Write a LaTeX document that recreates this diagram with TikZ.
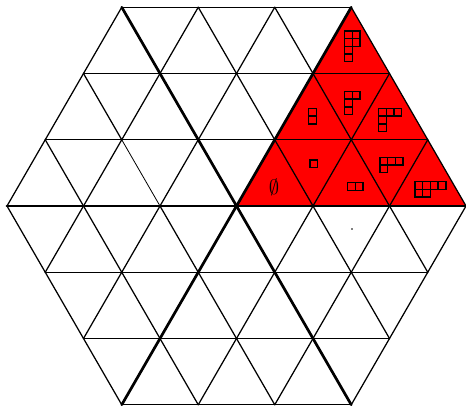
\documentclass[tikz,border=0pt]{standalone}
\newcommand\youngdiag[3]{%
  \foreach \L [count=\r] in {#3} {%
    \foreach \k in {1,...,\L} {%
      \draw[ybox] ({#1+(\k-1)*7.7},{#2+(\r-1)*7.7}) rectangle ++(7.7,7.7);
    }%
  }%
}
\begin{document}
\begin{tikzpicture}[x=1pt,y=-1pt,
  gridline/.style={line width=1.25pt, line cap=round},
  thinline/.style={line width=0.8pt},
  spoke/.style={line width=2.7pt, line cap=round},
  ybox/.style={line width=1.4pt},
  declare function={px(\i,\j)=236.5+(\i+0.5*\j)*76.5; py(\i,\j)=206-\j*66.25;}]
\useasboundingbox (0,0) rectangle (466,406);
\coordinate (O) at ({px(0,0)},{py(0,0)});
\coordinate (VA) at ({px(0,3)},{py(0,3)});
\coordinate (VB) at ({px(3,0)},{py(3,0)});
% red region
\fill[red] (O) -- (VA) -- (VB) -- cycle;
% lattice lines
\foreach \c in {-3,...,3} {
  \pgfmathsetmacro\a{max(-3,-3-\c)}
  \pgfmathsetmacro\b{min(3,3-\c)}
  \draw[gridline] ({px(\a,\c)},{py(\a,\c)}) -- ({px(\b,\c)},{py(\b,\c)});
  \draw[gridline] ({px(\c,\a)},{py(\c,\a)}) -- ({px(\c,\b)},{py(\c,\b)});
}
\foreach \c in {-3,-2,0,1,2,3} {
  \pgfmathsetmacro\aa{max(-3,\c-3)}
  \pgfmathsetmacro\bb{min(3,\c+3)}
  \draw[gridline] ({px((\c)-(\aa),\aa)},{py((\c)-(\aa),\aa)}) -- ({px((\c)-(\bb),\bb)},{py((\c)-(\bb),\bb)});
}
% the line i+j=-1, with one lighter segment
\coordinate (P1) at ({px(2,-3)},{py(2,-3)});
\coordinate (P2) at ({px(-1,0)},{py(-1,0)});
\coordinate (P3) at ({px(-2,1)},{py(-2,1)});
\coordinate (P4) at ({px(-3,2)},{py(-3,2)});
\draw[gridline] (P1) -- (P2);
\draw[thinline] (P2) -- (P3);
\draw[gridline] (P3) -- (P4);
% thick spokes
\foreach \i/\j in {3/0,0/3,-3/3,-3/0,0/-3,3/-3}
  \draw[spoke] (O) -- ({px(\i,\j)},{py(\i,\j)});
% Young diagrams
\youngdiag{344.5}{31}{2,2,1,1}
\youngdiag{308.5}{108.5}{1,1}
\youngdiag{344.5}{91.5}{2,1,1}
\youngdiag{378.5}{108.5}{3,1,1}
\youngdiag{310}{160}{1}
\youngdiag{347.5}{182.7}{2}
\youngdiag{380}{157.3}{3,1}
\youngdiag{415}{181.7}{4,2}
\node[inner sep=0pt, font=\fontsize{22}{26}\selectfont] (empty) at (274,187) {$\emptyset$};
% tiny dot
\fill[gray] (351.4,228.4) rectangle ++(1.2,1.2);
\end{tikzpicture}
\end{document}
